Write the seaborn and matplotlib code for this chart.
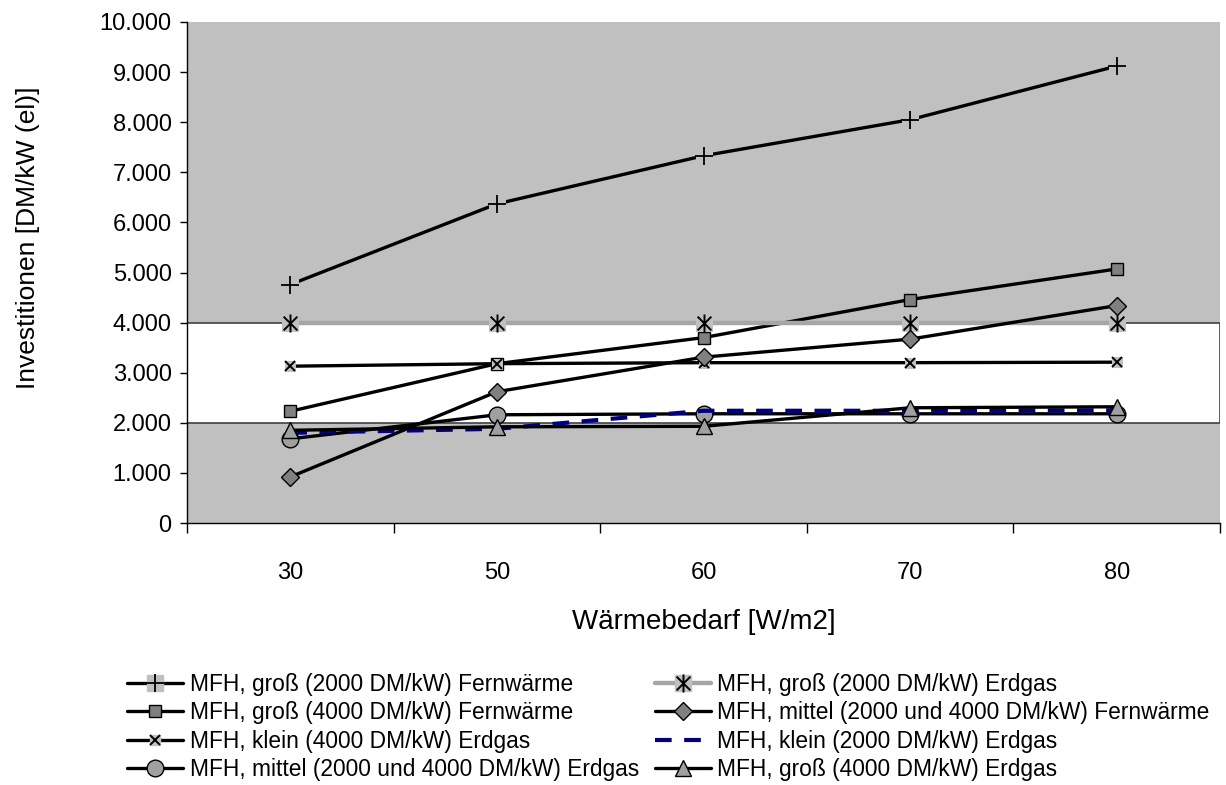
import matplotlib

matplotlib.use("Agg")
import matplotlib.pyplot as plt
from matplotlib.legend_handler import HandlerTuple
from matplotlib.lines import Line2D
from matplotlib.path import Path
from matplotlib.ticker import FuncFormatter, MultipleLocator
import pandas as pd
import seaborn as sns

# --- Data ---
categories = ["30", "50", "60", "70", "80"]

gross_2000_fw = [4760, 6370, 7330, 8050, 9120]
gross_4000_fw = [2230, 3180, 3700, 4460, 5070]
klein_4000_gas = [3130, 3180, 3200, 3200, 3210]
mittel_gas = [1680, 2160, 2180, 2180, 2180]
gross_2000_gas = [4000, 4000, 4000, 4000, 4000]
mittel_fw = [920, 2620, 3310, 3670, 4340]
klein_2000_gas = [1800, 1880, 2240, 2240, 2250]
gross_4000_gas = [1850, 1920, 1930, 2300, 2320]

series_labels = [
    "MFH, groß (2000 DM/kW) Fernwärme",
    "MFH, groß (4000 DM/kW) Fernwärme",
    "MFH, klein (4000 DM/kW) Erdgas",
    "MFH, mittel (2000 und 4000 DM/kW) Erdgas",
    "MFH, groß (2000 DM/kW) Erdgas",
    "MFH, mittel (2000 und 4000 DM/kW) Fernwärme",
    "MFH, klein (2000 DM/kW) Erdgas",
    "MFH, groß (4000 DM/kW) Erdgas",
]
series_values = [
    gross_2000_fw, gross_4000_fw, klein_4000_gas, mittel_gas,
    gross_2000_gas, mittel_fw, klein_2000_gas, gross_4000_gas,
]

# Excel-style asterisk: vertical bar plus an X
asterisk = Path(
    [(0, 0.5), (0, -0.5), (-0.38, 0.38), (0.38, -0.38), (-0.38, -0.38), (0.38, 0.38)],
    [Path.MOVETO, Path.LINETO] * 3,
)

LW = 2.4
# line: kwargs for the connecting line; mark: marker glyph; bg: size of the
# light grey square Excel draws behind line-only markers
styles = [
    dict(line=dict(color="black", linewidth=LW),
         mark=dict(marker="+", markersize=13, markeredgewidth=1.3, markeredgecolor="black"),
         bg=11),
    dict(line=dict(color="black", linewidth=LW),
         mark=dict(marker="s", markersize=8, markerfacecolor="#808080",
                   markeredgecolor="black", markeredgewidth=1)),
    dict(line=dict(color="black", linewidth=LW),
         mark=dict(marker="x", markersize=7, markeredgewidth=1.4, markeredgecolor="black"),
         bg=7.5),
    dict(line=dict(color="black", linewidth=LW),
         mark=dict(marker="o", markersize=12, markerfacecolor="#a0a0a0",
                   markeredgecolor="black", markeredgewidth=1)),
    dict(line=dict(color="#a6a6a6", linewidth=3.2),
         mark=dict(marker=asterisk, markersize=13, markeredgecolor="black",
                   markerfacecolor="none", markeredgewidth=1.4),
         bg=11),
    dict(line=dict(color="black", linewidth=LW),
         mark=dict(marker="D", markersize=9, markerfacecolor="#808080",
                   markeredgecolor="black", markeredgewidth=1)),
    dict(line=dict(color="#000080", linewidth=3, dashes=(4, 3))),
    dict(line=dict(color="black", linewidth=LW),
         mark=dict(marker="^", markersize=12, markerfacecolor="#a0a0a0",
                   markeredgecolor="black", markeredgewidth=1)),
]

sns.set_style("ticks")
plt.rcParams["font.family"] = ["Liberation Sans", "DejaVu Sans"]
for key in ["text.color", "axes.labelcolor", "xtick.color", "ytick.color"]:
    plt.rcParams[key] = "black"

fig = plt.figure(figsize=(12.26, 7.85), dpi=100)
ax = fig.add_axes([187 / 1226, 1 - 523 / 785, (1220 - 187) / 1226, (523 - 22) / 785])
ax.set_facecolor("#c0c0c0")

# white band between 2.000 and 4.000
ax.axhspan(2000, 4000, facecolor="white", edgecolor="#404040", linewidth=1.2, zorder=0.5)

positions = list(range(len(categories)))
legend_handles = []
for label, values, style in zip(series_labels, series_values, styles):
    df = pd.DataFrame({"x": positions, "y": values})
    line_kw = dict(style["line"])
    dashes = line_kw.pop("dashes", None)
    sns.lineplot(data=df, x="x", y="y", ax=ax, legend=False, **line_kw)
    handle_line = Line2D([], [], **line_kw)
    if dashes is not None:
        ax.lines[-1].set_dashes(dashes)
        handle_line.set_dashes(dashes)
    handle = [handle_line]
    if "bg" in style:
        bg_kw = dict(marker="s", markersize=style["bg"], color="#c0c0c0",
                     markeredgecolor="#c0c0c0", linestyle="")
        sns.lineplot(data=df, x="x", y="y", ax=ax, legend=False, **bg_kw)
        handle.append(Line2D([], [], **bg_kw))
    if "mark" in style:
        mk = dict(style["mark"], linestyle="", color="black")
        sns.lineplot(data=df, x="x", y="y", ax=ax, legend=False, **mk)
        handle.append(Line2D([], [], **mk))
    legend_handles.append(tuple(handle))

ax.set_xlim(-0.5, len(categories) - 0.5)
ax.set_ylim(0, 10000)
ax.yaxis.set_major_locator(MultipleLocator(1000))
ax.yaxis.set_major_formatter(FuncFormatter(lambda v, _: f"{int(v):,}".replace(",", ".")))
ax.set_xticks(positions)
ax.set_xticklabels(categories)
ax.set_xticks([p - 0.5 for p in positions] + [len(categories) - 0.5], minor=True)
ax.tick_params(axis="x", which="major", length=0, pad=28, labelsize=17, labelcolor="black")
ax.tick_params(axis="x", which="minor", length=7, width=1, color="black", direction="out")
ax.tick_params(axis="y", length=5, width=1, color="black", direction="out",
               labelsize=17, pad=6, labelcolor="black")

for side in ["top", "right"]:
    ax.spines[side].set_visible(False)
for side in ["left", "bottom"]:
    ax.spines[side].set_color("black")
    ax.spines[side].set_linewidth(1)

ax.set_xlabel("Wärmebedarf [W/m2]", fontsize=20, color="black")
ax.set_ylabel("Investitionen [DM/kW (el)]", fontsize=19, color="black")
ax.xaxis.set_label_coords(0.5, -(609 - 523) / 501)
ax.yaxis.set_label_coords(-(187 - 40) / 1033, (523 - 238) / 501)

fig.legend(
    legend_handles, series_labels, handler_map={tuple: HandlerTuple(ndivide=1, pad=0)},
    loc="upper left", bbox_to_anchor=(127 / 1226, 1 - 673 / 785),
    ncol=2, frameon=False, fontsize=16.4, handlelength=2.45, handletextpad=0.3,
    labelspacing=0.24, columnspacing=0.7, borderaxespad=0, borderpad=0,
    labelcolor="black",
)

fig.savefig("out.png", dpi=100)
plt.close(fig)
